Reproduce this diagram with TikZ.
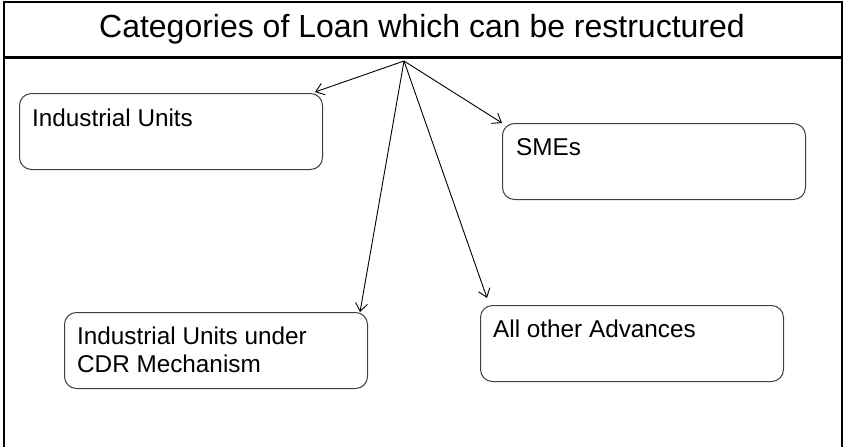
\documentclass[tikz,border=0pt]{standalone}
\usepackage{fontspec}
\setmainfont{Liberation Sans}
\usetikzlibrary{arrows.meta}
\begin{document}
\begin{tikzpicture}[x=1pt,y=-1pt,
  catbox/.style={draw=black!75,line width=1pt,rounded corners=12pt,minimum width=#1,minimum height=76pt,inner sep=0pt,anchor=north west},
  catbox/.default=303pt,
  cattext/.style={anchor=base west,inner sep=0pt,font=\fontsize{24.3}{28}\selectfont,align=left},
  conn/.style={draw=black,line width=0.9pt,-{Straight Barb[length=8pt,width=12pt]}}]
\useasboundingbox (0,0) rectangle (844,447);
% frame
\draw[line width=1.5pt] (4,460) -- (4,2) -- (842,2) -- (842,460);
\draw[line width=3.5pt] (4,57.5) -- (842,57.5);
\node[anchor=base,inner sep=0pt,font=\fontsize{32}{38}\selectfont] (title) at (422,37) {Categories of Loan which can be restructured};
\coordinate (apex) at (404,61);
% boxes
\node[catbox] (b1) at (19,93) {};
\node[catbox] (b2) at (502,123) {};
\node[catbox] (b3) at (64,312) {};
\node[catbox] (b4) at (480,305) {};
\node[cattext] (t1) at (32,126) {Industrial Units};
\node[cattext] (t2) at (516,155) {SMEs};
\node[cattext] (t3) at (77,372) {Industrial Units under\\CDR Mechanism};
\node[cattext] (t4) at (493,337) {All other Advances};
% connectors
\draw[conn] (apex) -- ([xshift=-8pt,yshift=1pt]b1.north east);
\draw[conn] (apex) -- (b2.north west);
\draw[conn] (apex) -- ([xshift=-8pt]b3.north east);
\draw[conn] (apex) -- ([xshift=7pt,yshift=7pt]b4.north west);
\end{tikzpicture}
\end{document}
